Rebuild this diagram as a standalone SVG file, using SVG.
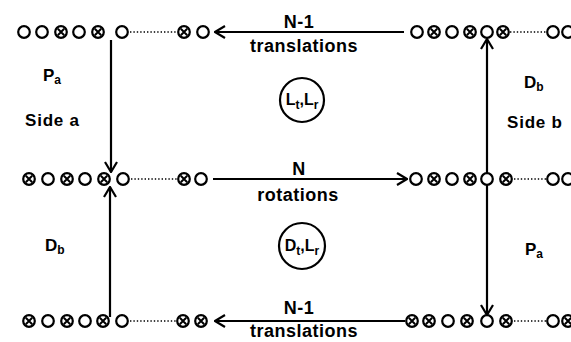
<svg xmlns="http://www.w3.org/2000/svg" xmlns:xlink="http://www.w3.org/1999/xlink" width="571" height="342" viewBox="0 0 571 342">
<style>
.c{fill:#fff;stroke:#000;stroke-width:2.2}
.xl{stroke:#000;stroke-width:2;fill:none}
.ln{stroke:#000;stroke-width:2.2;fill:none}
.dot{stroke:#000;stroke-width:1.6;stroke-dasharray:1.4 2;fill:none}
.t{font-family:"Liberation Sans",Arial,sans-serif;font-weight:bold;fill:#000}
.big{font-size:18px;letter-spacing:0.5px}
.lab{font-size:17px}
.sub{font-size:12px}
</style>
<defs>
<g id="o"><circle class="c" r="5.8"/></g>
<g id="x"><circle class="c" r="5.8"/><path class="xl" d="M-3.2,-3.2 L3.2,3.2 M3.2,-3.2 L-3.2,3.2"/></g>
<marker id="arr" viewBox="0 0 12 14" refX="11" refY="7" markerWidth="12" markerHeight="14" orient="auto" markerUnits="userSpaceOnUse"><path d="M1,1 L11,7 L1,13" fill="none" stroke="#000" stroke-width="2.2"/></marker>
</defs>
<rect width="571" height="342" fill="#fff"/>
<g id="connectors">
<line class="dot" x1="130" y1="32" x2="177" y2="32"/>
<line class="dot" x1="131" y1="179" x2="177" y2="179"/>
<line class="dot" x1="130" y1="321" x2="176" y2="321"/>
<line class="dot" x1="510" y1="32" x2="546" y2="32"/>
<line class="dot" x1="514" y1="179" x2="546" y2="179"/>
<line class="dot" x1="514" y1="321" x2="546" y2="321"/>
<line class="ln" x1="404" y1="32" x2="215" y2="32" marker-end="url(#arr)"/>
<line class="ln" x1="213" y1="179" x2="407" y2="179" marker-end="url(#arr)"/>
<line class="ln" x1="405" y1="321" x2="215" y2="321" marker-end="url(#arr)"/>
<line class="ln" x1="111" y1="40" x2="111" y2="172" marker-end="url(#arr)"/>
<line class="ln" x1="110" y1="317" x2="110" y2="187" marker-end="url(#arr)"/>
<line class="ln" x1="487" y1="174" x2="487" y2="39" marker-end="url(#arr)"/>
<line class="ln" x1="487" y1="185" x2="487" y2="315" marker-end="url(#arr)"/>
</g>
<g id="row-top-left">
<use xlink:href="#o" x="24" y="32"/><use xlink:href="#o" x="42" y="32"/><use xlink:href="#x" x="61" y="32"/><use xlink:href="#o" x="79" y="32"/><use xlink:href="#x" x="98" y="32"/><use xlink:href="#o" x="122" y="32"/>
<use xlink:href="#x" x="184" y="32"/><use xlink:href="#o" x="203" y="32"/>
</g>
<g id="row-top-right">
<use xlink:href="#o" x="417" y="32"/><use xlink:href="#x" x="434" y="32"/><use xlink:href="#o" x="452" y="32"/><use xlink:href="#x" x="470" y="32"/><use xlink:href="#o" x="487" y="32"/><use xlink:href="#x" x="503" y="32"/>
<use xlink:href="#o" x="553" y="32"/><use xlink:href="#o" x="568" y="32"/>
</g>
<g id="row-mid-left">
<use xlink:href="#x" x="29" y="179"/><use xlink:href="#o" x="48" y="179"/><use xlink:href="#x" x="67" y="179"/><use xlink:href="#o" x="85" y="179"/><use xlink:href="#x" x="104" y="179"/><use xlink:href="#o" x="123" y="179"/>
<use xlink:href="#x" x="184" y="179"/><use xlink:href="#o" x="201" y="179"/>
</g>
<g id="row-mid-right">
<use xlink:href="#o" x="416" y="179"/><use xlink:href="#x" x="434" y="179"/><use xlink:href="#o" x="452" y="179"/><use xlink:href="#x" x="470" y="179"/><use xlink:href="#o" x="487" y="179"/><use xlink:href="#x" x="506" y="179"/>
<use xlink:href="#o" x="553" y="179"/><use xlink:href="#o" x="568" y="179"/>
</g>
<g id="row-bot-left">
<use xlink:href="#x" x="29" y="321"/><use xlink:href="#o" x="48" y="321"/><use xlink:href="#x" x="67" y="321"/><use xlink:href="#o" x="85" y="321"/><use xlink:href="#x" x="103" y="321"/><use xlink:href="#o" x="122" y="321"/>
<use xlink:href="#x" x="183" y="321"/><use xlink:href="#x" x="201" y="321"/>
</g>
<g id="row-bot-right">
<use xlink:href="#x" x="412" y="321"/><use xlink:href="#x" x="429" y="321"/><use xlink:href="#o" x="448" y="321"/><use xlink:href="#x" x="467" y="321"/><use xlink:href="#o" x="487" y="321"/><use xlink:href="#x" x="506" y="321"/>
<use xlink:href="#o" x="553" y="321"/><use xlink:href="#x" x="568" y="321"/>
</g>
<g id="node-LtLr">
<circle cx="302" cy="100" r="22" fill="none" stroke="#000" stroke-width="2.2"/>
<text class="t" x="302" y="105" text-anchor="middle" font-size="16">L<tspan class="sub" dy="4">t</tspan><tspan dy="-4">,L</tspan><tspan class="sub" dy="4">r</tspan></text>
</g>
<g id="node-DtLr">
<circle cx="302" cy="246" r="23" fill="none" stroke="#000" stroke-width="2.2"/>
<text class="t" x="302" y="251" text-anchor="middle" font-size="16">D<tspan class="sub" dy="4">t</tspan><tspan dy="-4">,L</tspan><tspan class="sub" dy="4">r</tspan></text>
</g>
<g id="labels">
<text class="t big" x="299" y="28" text-anchor="middle" letter-spacing="2">N-1</text>
<text class="t big" x="304" y="52" text-anchor="middle">translations</text>
<text class="t big" x="299" y="175" text-anchor="middle">N</text>
<text class="t big" x="298" y="201" text-anchor="middle">rotations</text>
<text class="t big" x="299" y="314" text-anchor="middle" letter-spacing="2">N-1</text>
<text class="t big" x="304" y="337" text-anchor="middle">translations</text>
<text class="t lab" x="43" y="81">P<tspan class="sub" dy="3">a</tspan></text>
<text class="t lab" x="25" y="126" letter-spacing="0.8">Side a</text>
<text class="t lab" x="524" y="88">D<tspan class="sub" dy="3">b</tspan></text>
<text class="t lab" x="507" y="128" letter-spacing="0.8">Side b</text>
<text class="t lab" x="45" y="251">D<tspan class="sub" dy="3">b</tspan></text>
<text class="t lab" x="525" y="255">P<tspan class="sub" dy="3">a</tspan></text>
</g>
</svg>
